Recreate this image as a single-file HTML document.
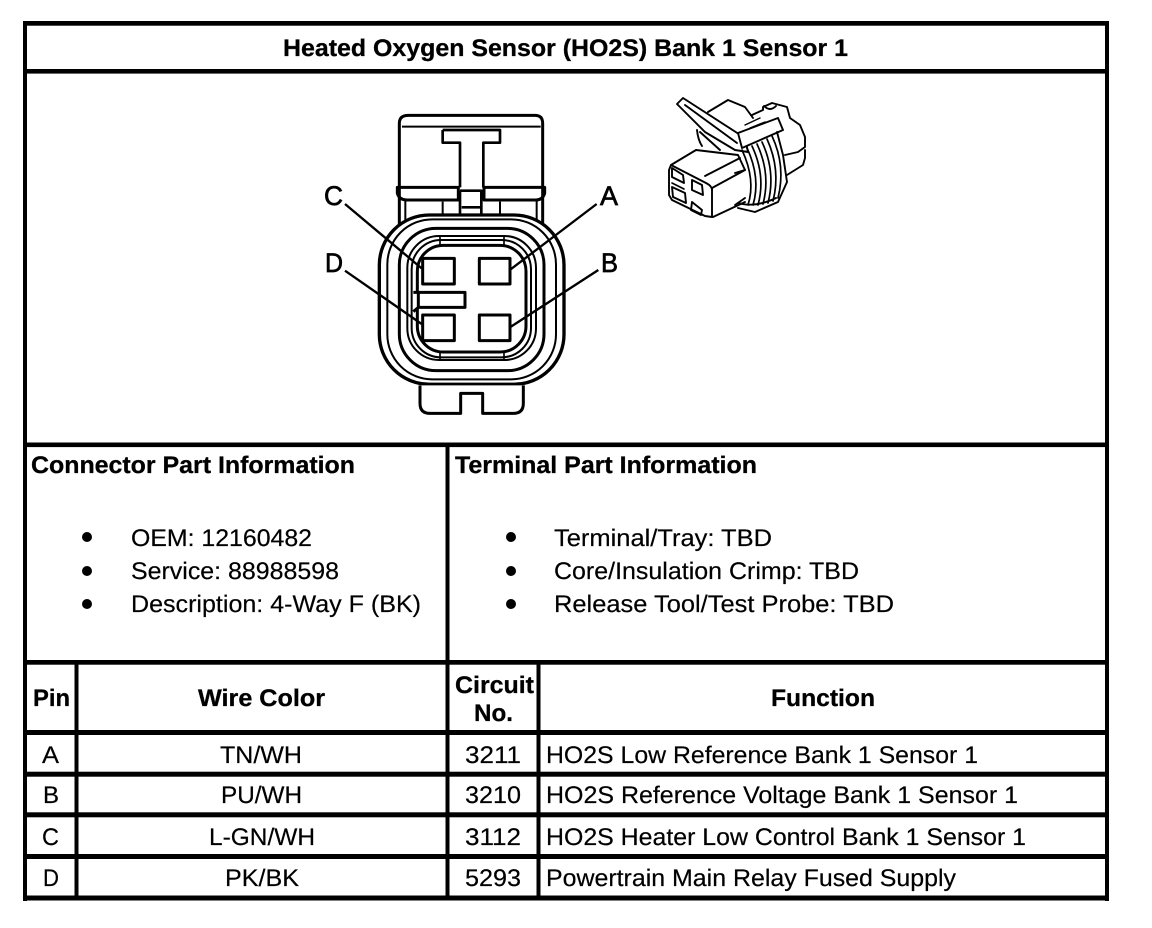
<!DOCTYPE html>
<html><head><meta charset="utf-8"><style>
html,body{margin:0;padding:0;background:#fff}
svg{display:block}
text{font-family:"Liberation Sans",Arial,sans-serif;font-size:24px;fill:#000;text-rendering:geometricPrecision;stroke:#000;stroke-width:.2}
.b{font-weight:bold;stroke-width:.3}
.l{font-size:27px;stroke-width:.7}
</style></head><body>
<svg width="1152" height="928" viewBox="0 0 1152 928" xmlns="http://www.w3.org/2000/svg">
<rect width="1152" height="928" fill="#fff"/>
<g fill="#000">
<rect x="23" y="21" width="1086" height="4.7"/>
<rect x="23" y="21" width="4" height="880"/>
<rect x="1105" y="21" width="4" height="880"/>
<rect x="23" y="895.5" width="1086" height="5"/>
<rect x="23" y="69" width="1086" height="4.6"/>
<rect x="23" y="442.5" width="1086" height="4.6"/>
<rect x="23" y="660" width="1086" height="4.7"/>
<rect x="23" y="730" width="1086" height="5"/>
<rect x="23" y="771.7" width="1086" height="5"/>
<rect x="23" y="812.3" width="1086" height="5"/>
<rect x="23" y="854" width="1086" height="5"/>
<rect x="445.5" y="443" width="4" height="456"/>
<rect x="74.5" y="661" width="4" height="238"/>
<rect x="536.5" y="661" width="4" height="238"/>
</g>

<text class="b" x="283" y="56" textLength="565" lengthAdjust="spacingAndGlyphs">Heated Oxygen Sensor (HO2S) Bank 1 Sensor 1</text>

<!-- front view connector -->
<g transform="translate(310,100) scale(0.33333)" fill="none" stroke="#000" stroke-width="8" stroke-linejoin="round">
<path d="M268 380V70Q268 46 295 46H675Q698 46 698 70V380" stroke-width="9"/>
<path d="M276 80H692" stroke-width="6"/>
<path d="M398 90H570V128H520V262M450 262V128H398V90"/>
<path d="M262 262H445V300H290Q268 300 262 280Z" stroke-width="9"/>
<path d="M704 262H522V300H678Q698 300 704 280Z" stroke-width="9"/>
<path d="M450 272H514V345M450 272V345M455 322H512"/>
<path d="M398 305V345M570 305V345M286 300V370M680 300V370" stroke-width="6"/>
<rect x="208" y="345" width="554" height="508" rx="150" stroke-width="10" fill="#fff"/>
<rect x="232" y="358" width="506" height="480" rx="135" stroke-width="6"/>
<rect x="268" y="385" width="434" height="427" rx="110" stroke-width="9"/>
<rect x="292" y="408" width="386" height="372" rx="95" stroke-width="6"/>
<rect x="305" y="420" width="358" height="352" rx="88" stroke-width="6"/>
<rect x="322" y="436" width="326" height="320" rx="78" stroke-width="9"/>
<path d="M390 408V436M582 408V436M390 756V780M582 756V780" stroke-width="5"/>
<path d="M330 856V910Q330 940 360 940H452V880H518V940H610Q640 940 640 910V856" stroke-width="9" fill="#fff"/>
<rect x="338" y="475" width="95" height="77" fill="#fff" stroke-width="9"/>
<rect x="508" y="475" width="92" height="77" fill="#fff" stroke-width="9"/>
<rect x="338" y="645" width="95" height="77" fill="#fff" stroke-width="9"/>
<rect x="508" y="645" width="92" height="77" fill="#fff" stroke-width="9"/>
<path d="M310 577H465V622H325L310 635M325 577V622" fill="#fff" stroke-width="9"/>
<path d="M105 312L335 505M105 512L335 672M860 312L602 508M865 510L603 680" stroke-width="7"/>
</g>
<text class="l" x="324" y="205" textLength="19" lengthAdjust="spacingAndGlyphs">C</text>
<text class="l" x="600" y="205" textLength="18" lengthAdjust="spacingAndGlyphs">A</text>
<text class="l" x="325" y="272" textLength="18" lengthAdjust="spacingAndGlyphs">D</text>
<text class="l" x="601" y="272" textLength="17" lengthAdjust="spacingAndGlyphs">B</text>

<!-- isometric connector -->
<g fill="none" stroke="#000" stroke-width="1.9" stroke-linejoin="round" stroke-linecap="round">
<path d="M708 112L728 100L745 107L753 118M752 115L763 110L763 107L772 103L787 107L790 118L800 125L805 137V147L798 152L785 155"/>
<path d="M805 150V158L803 165L787 175"/>
<path d="M764 106Q770 112 776 106"/>
<path d="M677 104L683 98L745 138L748 152L735 150L705 132Z" fill="#fff"/>
<path d="M685 105L737 143M697 130Q698 140 702 146M700 132L720 150"/>
<path d="M738 133L778 118L783 130L742 148Z" fill="#fff"/>
<path d="M745 125L760 118M750 128L765 122" stroke-width="1.4"/>
<path d="M671 165L696 150L738 155L745 170L712 188V217L705 216L672 200L669 195V170Z" fill="#fff"/>
<path d="M671 165L706 183Q712 186 712 190M705 176L740 158M713 217L745 202"/>
<path d="M672 168L683 175L684 183L672 177ZM692 180L702 185L703 195L692 190ZM672 187L685 193L686 203L673 197ZM692 202L702 210L701 215L691 210Z"/>
<path d="M672 183L684 189" stroke-width="1.6"/>
<g stroke-width="1.7">
<path d="M742 150Q756 180 748 205"/>
<path d="M747 148Q761 178 753 205"/>
<path d="M752 146Q766 176 758 205"/>
<path d="M757 144Q771 174 763 204"/>
<path d="M762 142Q776 172 768 203"/>
<path d="M767 139Q781 170 773 201"/>
<path d="M772 136Q786 166 778 198"/>
</g>
<path d="M777 132L783 155L787 182L778 202L755 212L738 208"/>
<path d="M738 203Q755 208 776 198"/>
<path d="M735 173L745 170M735 205L745 198"/>
</g>

<text class="b" x="31" y="473" textLength="324" lengthAdjust="spacingAndGlyphs">Connector Part Information</text>
<text class="b" x="455" y="473" textLength="302" lengthAdjust="spacingAndGlyphs">Terminal Part Information</text>

<g fill="#000">
<circle cx="87" cy="537" r="5"/><circle cx="87" cy="571" r="5"/><circle cx="87" cy="604" r="5"/>
<circle cx="511" cy="537" r="5"/><circle cx="511" cy="571" r="5"/><circle cx="511" cy="604" r="5"/>
</g>
<text x="131" y="546" textLength="181" lengthAdjust="spacingAndGlyphs">OEM: 12160482</text>
<text x="131" y="579" textLength="208" lengthAdjust="spacingAndGlyphs">Service: 88988598</text>
<text x="131" y="612" textLength="290" lengthAdjust="spacingAndGlyphs">Description: 4-Way F (BK)</text>
<text x="554" y="546" textLength="218" lengthAdjust="spacingAndGlyphs">Terminal/Tray: TBD</text>
<text x="554" y="579" textLength="305" lengthAdjust="spacingAndGlyphs">Core/Insulation Crimp: TBD</text>
<text x="554" y="612" textLength="340" lengthAdjust="spacingAndGlyphs">Release Tool/Test Probe: TBD</text>

<text class="b" x="33" y="706" textLength="37" lengthAdjust="spacingAndGlyphs">Pin</text>
<text class="b" x="198" y="706" textLength="127" lengthAdjust="spacingAndGlyphs">Wire Color</text>
<text class="b" x="455" y="693" textLength="79" lengthAdjust="spacingAndGlyphs">Circuit</text>
<text class="b" x="474" y="721" textLength="39" lengthAdjust="spacingAndGlyphs">No.</text>
<text class="b" x="771" y="706" textLength="104" lengthAdjust="spacingAndGlyphs">Function</text>

<text x="42" y="763" textLength="17" lengthAdjust="spacingAndGlyphs">A</text>
<text x="43" y="803" textLength="16" lengthAdjust="spacingAndGlyphs">B</text>
<text x="42" y="845" textLength="17" lengthAdjust="spacingAndGlyphs">C</text>
<text x="43" y="886" textLength="16" lengthAdjust="spacingAndGlyphs">D</text>

<text x="220" y="763" textLength="82" lengthAdjust="spacingAndGlyphs">TN/WH</text>
<text x="221" y="803" textLength="81" lengthAdjust="spacingAndGlyphs">PU/WH</text>
<text x="209" y="845" textLength="106" lengthAdjust="spacingAndGlyphs">L-GN/WH</text>
<text x="225" y="886" textLength="74" lengthAdjust="spacingAndGlyphs">PK/BK</text>

<text x="465" y="763" textLength="56" lengthAdjust="spacingAndGlyphs">3211</text>
<text x="465" y="803" textLength="56" lengthAdjust="spacingAndGlyphs">3210</text>
<text x="465" y="845" textLength="56" lengthAdjust="spacingAndGlyphs">3112</text>
<text x="465" y="886" textLength="56" lengthAdjust="spacingAndGlyphs">5293</text>

<text x="546" y="763" textLength="432" lengthAdjust="spacingAndGlyphs">HO2S Low Reference Bank 1 Sensor 1</text>
<text x="546" y="803" textLength="472" lengthAdjust="spacingAndGlyphs">HO2S Reference Voltage Bank 1 Sensor 1</text>
<text x="546" y="845" textLength="480" lengthAdjust="spacingAndGlyphs">HO2S Heater Low Control Bank 1 Sensor 1</text>
<text x="546" y="886" textLength="410" lengthAdjust="spacingAndGlyphs">Powertrain Main Relay Fused Supply</text>
</svg>
</body></html>
